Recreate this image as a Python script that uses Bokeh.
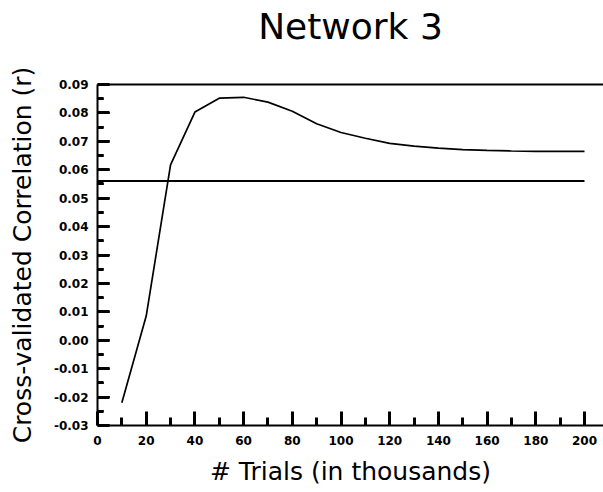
from bokeh.plotting import figure
from bokeh.models import LinearAxis, FixedTicker, PrintfTickFormatter, Range1d
from bokeh.embed import file_html
from bokeh.resources import INLINE

# Data
trials = [10, 20, 30, 40, 50, 60, 70, 80, 90, 100, 110, 120, 130, 140, 150, 160, 170, 180, 190, 200]
correlation = [-0.022, 0.0085, 0.0617, 0.0803, 0.0852, 0.0855, 0.0838, 0.0806, 0.0762, 0.0731,
               0.0711, 0.0693, 0.0683, 0.0676, 0.0671, 0.0668, 0.0666, 0.0665, 0.0665, 0.0665]
baseline_x = [0, 200]
baseline_y = [0.056, 0.056]

x_ticks = [0, 20, 40, 60, 80, 100, 120, 140, 160, 180, 200]
x_minor_ticks = [10, 30, 50, 70, 90, 110, 130, 150, 170, 190]
y_ticks = [-0.03, -0.02, -0.01, 0.00, 0.01, 0.02, 0.03, 0.04, 0.05, 0.06, 0.07, 0.08, 0.09]
y_minor_ticks = [-0.025, -0.015, -0.005, 0.005, 0.015, 0.025, 0.035, 0.045, 0.055, 0.065, 0.075, 0.085]

title_text = "Network 3"
x_label = "# Trials (in thousands)"
y_label = "Cross-validated Correlation (r)"

FONT = "DejaVu Sans"

W, H = 603, 492
BORDER_L, BORDER_R, BORDER_T, BORDER_B = 97, 0, 84, 67
X_START, X_END = 0, 207.8
Y_START, Y_END = -0.03, 0.09
px_x = (X_END - X_START) / (W - BORDER_L - BORDER_R)

p = figure(width=W, height=H,
           x_range=Range1d(X_START, X_END), y_range=Range1d(Y_START, Y_END),
           output_backend="svg", toolbar_location=None, title=None,
           x_axis_type=None, y_axis_type=None,
           min_border_left=BORDER_L, min_border_right=BORDER_R,
           min_border_top=BORDER_T, min_border_bottom=BORDER_B)
p.outline_line_color = None
p.background_fill_color = "white"
p.border_fill_color = "white"


def style_axis(ax, label_size, label_standoff, tick_standoff, major_in, minor_in):
    ax.axis_line_width = 2
    ax.axis_line_color = "black"
    ax.major_tick_in = major_in
    ax.major_tick_out = 0
    ax.minor_tick_in = minor_in
    ax.minor_tick_out = 0
    ax.major_tick_line_color = "black"
    ax.minor_tick_line_color = "black"
    ax.major_tick_line_width = 3
    ax.minor_tick_line_width = 3
    ax.major_label_text_font = FONT
    ax.major_label_text_font_size = "12px"
    ax.major_label_text_font_style = "bold"
    ax.major_label_text_color = "black"
    ax.major_label_standoff = tick_standoff
    ax.axis_label_text_font = FONT
    ax.axis_label_text_font_size = label_size
    ax.axis_label_text_font_style = "normal"
    ax.axis_label_text_color = "black"
    ax.axis_label_standoff = label_standoff


xaxis = LinearAxis(ticker=FixedTicker(ticks=x_ticks, minor_ticks=x_minor_ticks),
                   axis_label=x_label)
style_axis(xaxis, "25px", 9, 10, 14, 8)
p.add_layout(xaxis, "below")

yaxis = LinearAxis(ticker=FixedTicker(ticks=y_ticks, minor_ticks=y_minor_ticks),
                   formatter=PrintfTickFormatter(format="%.2f"),
                   axis_label=y_label)
style_axis(yaxis, "25px", 14, 9, 12, 6)
p.add_layout(yaxis, "left")

# top border line; it carries the chart title as its label
top_axis = LinearAxis(ticker=FixedTicker(ticks=[]), axis_label=title_text)
style_axis(top_axis, "36px", 38, 0, 0, 0)
top_axis.major_tick_line_color = None
top_axis.minor_tick_line_color = None
top_axis.major_label_text_font_size = "0px"
p.add_layout(top_axis, "above")

# inward ticks on the left axis, also drawn as glyphs (same place as the axis ticks)
p.segment(x0=[X_START] * len(y_ticks), y0=y_ticks,
          x1=[X_START + 12 * px_x] * len(y_ticks), y1=y_ticks,
          line_color="black", line_width=2)
p.segment(x0=[X_START] * len(y_minor_ticks), y0=y_minor_ticks,
          x1=[X_START + 6 * px_x] * len(y_minor_ticks), y1=y_minor_ticks,
          line_color="black", line_width=2)
p.scatter(x=[X_START] * len(y_ticks), y=y_ticks, marker="dash", size=24,
          line_color="black", line_width=2)
p.scatter(x=[X_START] * len(y_minor_ticks), y=y_minor_ticks, marker="dash", size=12,
          line_color="black", line_width=2)

p.line(baseline_x, baseline_y, line_color="black", line_width=2)
p.line(trials, correlation, line_color="black", line_width=1.7)

open("out.html", "w").write(file_html(p, INLINE))
